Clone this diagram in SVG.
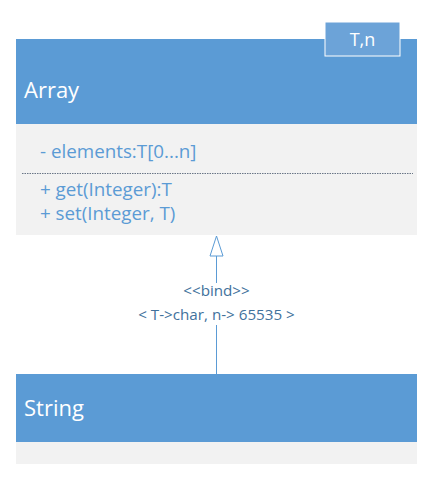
<svg xmlns="http://www.w3.org/2000/svg" width="431" height="478" viewBox="0 0 431 478">
<style>
.hdr{fill:#5B9BD5}
.body{fill:#F2F2F2}
.title{font-family:"Open Sans","Noto Sans",sans-serif;font-size:22px;fill:#FFFFFF}
.mem{font-family:"Open Sans","Noto Sans",sans-serif;font-size:18.8px;fill:#5B9BD5}
.lbl{font-family:"Open Sans","Noto Sans",sans-serif;font-size:15.2px;fill:#41719C;text-anchor:middle}
</style>
<rect width="431" height="478" fill="#FFFFFF"/>
<g id="Array">
<rect class="hdr" x="16" y="39" width="401" height="85"/>
<rect class="body" x="16" y="124" width="401" height="111"/>
<line x1="22" y1="173.5" x2="413" y2="173.5" stroke="#44546A" stroke-width="0.8" stroke-dasharray="1.5,1"/>
<text class="title" x="24" y="98">Array</text>
<text class="mem" x="40" y="158">- elements:T[0...n]</text>
<text class="mem" x="40" y="196">+ get(Integer):T</text>
<text class="mem" x="40" y="220">+ set(Integer, T)</text>
<g id="template">
<rect x="325" y="22" width="75" height="34" fill="#6CA3D8" stroke="#FFFFFF" stroke-width="1"/>
<text x="362.5" y="46" font-family="'Open Sans','Noto Sans',sans-serif" font-size="18" fill="#FFFFFF" text-anchor="middle">T,n</text>
</g>
</g>
<g id="String">
<rect class="hdr" x="16" y="374" width="401" height="68"/>
<rect class="body" x="16" y="442" width="401" height="22"/>
<text class="title" x="24" y="416">String</text>
</g>
<g id="connectors">
<line x1="216.5" y1="256" x2="216.5" y2="283" stroke="#5B9BD5" stroke-width="1"/>
<line x1="216.5" y1="325" x2="216.5" y2="374" stroke="#5B9BD5" stroke-width="1"/>
<polygon points="216.5,236 210,256 223,256" fill="#FFFFFF" stroke="#5B9BD5" stroke-width="1"/>
<text class="lbl" x="216.5" y="296">&lt;&lt;bind&gt;&gt;</text>
<text class="lbl" x="216.5" y="320">&lt; T-&gt;char, n-&gt; 65535 &gt;</text>
</g>
</svg>
